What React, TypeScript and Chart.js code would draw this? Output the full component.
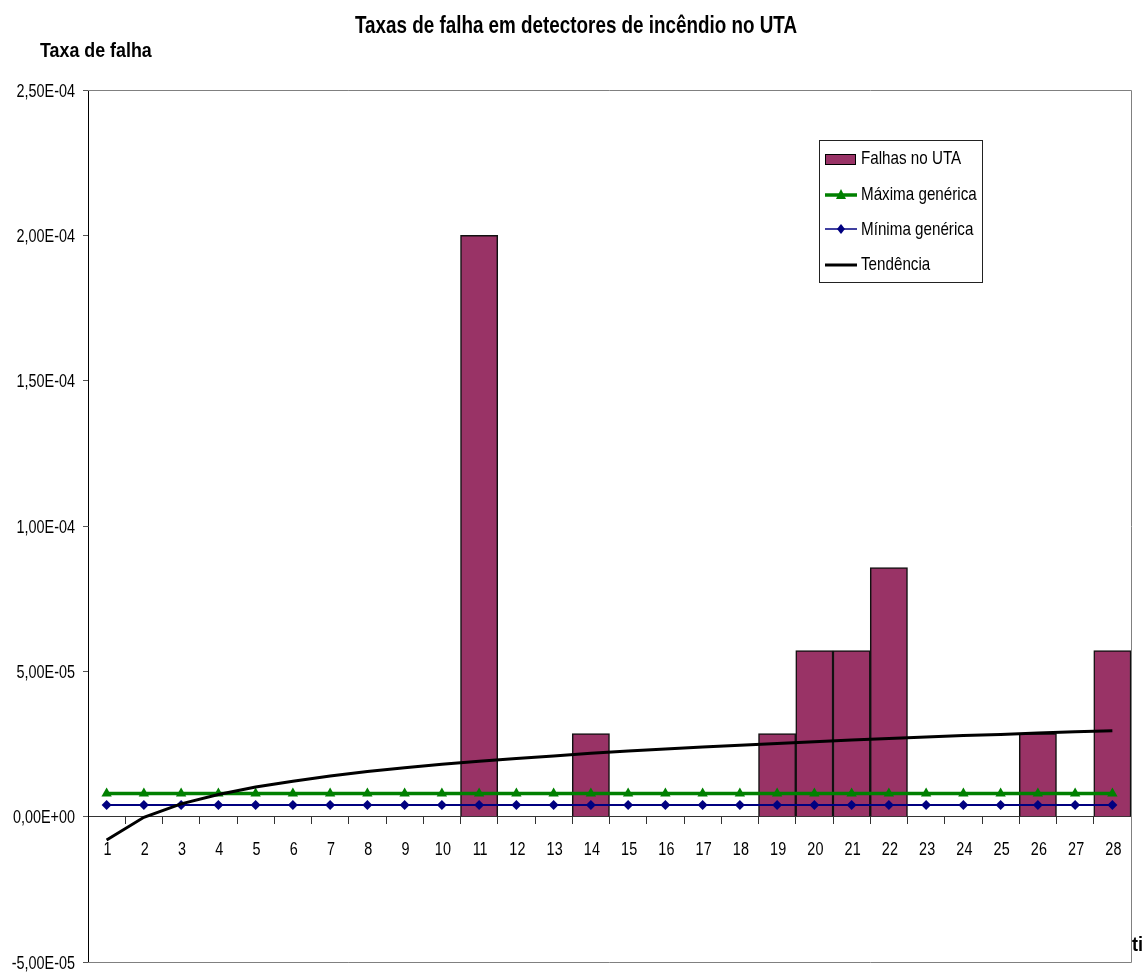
import React, { useEffect, useRef } from "react";
import { Chart, registerables } from "chart.js";

Chart.register(...registerables);

const categories = [
  "1", "2", "3", "4", "5", "6", "7", "8", "9", "10", "11", "12", "13", "14",
  "15", "16", "17", "18", "19", "20", "21", "22", "23", "24", "25", "26", "27", "28",
];

const falhasUTA = [
  null, null, null, null, null, null, null, null, null, null, 2.0e-4, null, null, 2.857e-5,
  null, null, null, null, 2.857e-5, 5.714e-5, 5.714e-5, 8.571e-5, null, null, null, 2.857e-5, null, 5.714e-5,
];

const maximaGenerica = [
  8e-6, 8e-6, 8e-6, 8e-6, 8e-6, 8e-6, 8e-6, 8e-6, 8e-6, 8e-6, 8e-6, 8e-6, 8e-6, 8e-6,
  8e-6, 8e-6, 8e-6, 8e-6, 8e-6, 8e-6, 8e-6, 8e-6, 8e-6, 8e-6, 8e-6, 8e-6, 8e-6, 8e-6,
];

const minimaGenerica = [
  4e-6, 4e-6, 4e-6, 4e-6, 4e-6, 4e-6, 4e-6, 4e-6, 4e-6, 4e-6, 4e-6, 4e-6, 4e-6, 4e-6,
  4e-6, 4e-6, 4e-6, 4e-6, 4e-6, 4e-6, 4e-6, 4e-6, 4e-6, 4e-6, 4e-6, 4e-6, 4e-6, 4e-6,
];

const tendencia = [
  -8.0e-6, -0.2e-6, 4.4e-6, 7.6e-6, 10.2e-6, 12.2e-6, 14.0e-6, 15.5e-6, 16.8e-6, 18.0e-6,
  19.1e-6, 20.0e-6, 20.9e-6, 21.8e-6, 22.6e-6, 23.3e-6, 24.0e-6, 24.6e-6, 25.2e-6, 25.8e-6,
  26.4e-6, 26.9e-6, 27.4e-6, 27.9e-6, 28.3e-6, 28.8e-6, 29.2e-6, 29.6e-6,
];

const seriesLabels = ["Falhas no UTA", "Máxima genérica", "Mínima genérica", "Tendência"];
const chartTitle = "Taxas de falha em detectores de incêndio no UTA";
const yAxisTitle = "Taxa de falha";
const xAxisTitle = "ti";

const FONT = "'Liberation Sans', Arial, sans-serif";
const BAR_COLOR = "#993366";
const GREEN = "#008000";
const NAVY = "#000080";

function sci(v: number): string {
  if (Math.abs(v) < 1e-12) return "0,00E+00";
  const [m, e] = v.toExponential(2).split("e");
  const n = parseInt(e, 10);
  return m.replace(".", ",") + "E" + (n < 0 ? "-" : "+") + String(Math.abs(n)).padStart(2, "0");
}

// draws horizontally condensed text (the original uses a narrow typeface)
function narrowText(ctx: any, text: string, x: number, y: number, font: string, align: string, sx: number) {
  ctx.save();
  ctx.translate(x, y);
  ctx.scale(sx, 1);
  ctx.font = font;
  ctx.textAlign = align;
  ctx.textBaseline = "alphabetic";
  ctx.fillStyle = "#000";
  ctx.fillText(text, 0, 0);
  ctx.restore();
}

const decorPlugin = {
  id: "decor",
  beforeDatasetsDraw(chart: any) {
    const { ctx, chartArea } = chart;
    const { left, right, top, bottom } = chartArea;
    ctx.save();
    ctx.strokeStyle = "#808080";
    ctx.lineWidth = 1;
    ctx.beginPath();
    ctx.moveTo(left, Math.round(top) + 0.5);
    ctx.lineTo(Math.round(right) + 0.5, Math.round(top) + 0.5);
    ctx.lineTo(Math.round(right) + 0.5, Math.round(bottom) + 0.5);
    ctx.lineTo(left, Math.round(bottom) + 0.5);
    ctx.stroke();
    ctx.restore();
  },
  afterDraw(chart: any) {
    const { ctx } = chart;
    const xs = chart.scales.x;
    const ys = chart.scales.y;

    // tick labels
    const tickFont = `18px ${FONT}`;
    ys.ticks.forEach((t: any, i: number) => {
      const py = ys.getPixelForTick(i);
      narrowText(ctx, sci(Number(t.value)), 75, py + 6.5, tickFont, "right", 0.8);
    });
    const zeroY = ys.getPixelForValue(0);
    xs.ticks.forEach((t: any, i: number) => {
      const px = xs.getPixelForTick(i);
      narrowText(ctx, String(categories[i]), px + 1, zeroY + 38, tickFont, "center", 0.8);
    });

    // titles
    narrowText(ctx, chartTitle, 576, 33, `bold 24px ${FONT}`, "center", 0.785);
    narrowText(ctx, yAxisTitle, 40, 57, `bold 21px ${FONT}`, "left", 0.85);
    narrowText(ctx, xAxisTitle, 1132, 951, `bold 21px ${FONT}`, "left", 0.86);

    // Legend
    ctx.save();
    const bx = 819.5, by = 140.5, bw = 163, bh = 142;
    ctx.fillStyle = "#fff";
    ctx.fillRect(bx, by, bw, bh);
    ctx.strokeStyle = "#222";
    ctx.lineWidth = 1;
    ctx.strokeRect(bx, by, bw, bh);

    const rows = [159, 195, 229, 265];
    const x0 = 825, x1 = 857, xm = 841, tx = 861;
    ctx.fillStyle = BAR_COLOR;
    ctx.fillRect(825, 154, 30, 10);
    ctx.strokeStyle = "#000";
    ctx.strokeRect(825.5, 154.5, 30, 10);
    ctx.strokeStyle = GREEN;
    ctx.lineWidth = 3.5;
    ctx.beginPath();
    ctx.moveTo(x0, rows[1]);
    ctx.lineTo(x1, rows[1]);
    ctx.stroke();
    ctx.fillStyle = GREEN;
    ctx.beginPath();
    ctx.moveTo(xm, rows[1] - 6);
    ctx.lineTo(xm + 5, rows[1] + 4);
    ctx.lineTo(xm - 5, rows[1] + 4);
    ctx.closePath();
    ctx.fill();
    ctx.strokeStyle = NAVY;
    ctx.lineWidth = 1.5;
    ctx.beginPath();
    ctx.moveTo(x0, rows[2]);
    ctx.lineTo(x1, rows[2]);
    ctx.stroke();
    ctx.fillStyle = NAVY;
    ctx.beginPath();
    ctx.moveTo(xm, rows[2] - 5);
    ctx.lineTo(xm + 4, rows[2]);
    ctx.lineTo(xm, rows[2] + 5);
    ctx.lineTo(xm - 4, rows[2]);
    ctx.closePath();
    ctx.fill();
    ctx.strokeStyle = "#000";
    ctx.lineWidth = 3;
    ctx.beginPath();
    ctx.moveTo(x0, rows[3]);
    ctx.lineTo(x1, rows[3]);
    ctx.stroke();
    ctx.restore();

    const baselines = [164, 200, 235, 270];
    seriesLabels.forEach((l, i) => narrowText(ctx, l, tx, baselines[i], `19px ${FONT}`, "left", 0.8));
  },
};

export default function App() {
  const ref = useRef<HTMLCanvasElement | null>(null);

  useEffect(() => {
    if (!ref.current) return;
    const chart = new Chart(ref.current, {
      type: "bar",
      data: {
        labels: categories,
        datasets: [
          {
            type: "bar",
            label: seriesLabels[0],
            data: falhasUTA as any,
            backgroundColor: BAR_COLOR,
            borderColor: "#111",
            borderWidth: 1.5,
            categoryPercentage: 1,
            barPercentage: 1,
            order: 4,
          },
          {
            type: "line",
            label: seriesLabels[1],
            data: maximaGenerica,
            borderColor: GREEN,
            backgroundColor: GREEN,
            borderWidth: 3.5,
            pointStyle: "triangle",
            pointRadius: 6,
            pointBorderWidth: 0,
            order: 2,
          },
          {
            type: "line",
            label: seriesLabels[2],
            data: minimaGenerica,
            borderColor: NAVY,
            backgroundColor: NAVY,
            borderWidth: 2,
            pointStyle: "rectRot",
            pointRadius: 5,
            pointBorderWidth: 0,
            order: 3,
          },
          {
            type: "line",
            label: seriesLabels[3],
            data: tendencia,
            borderColor: "#000",
            backgroundColor: "#000",
            borderWidth: 3,
            pointRadius: 0,
            tension: 0,
            order: 1,
          },
        ],
      },
      options: {
        responsive: false,
        animation: false,
        layout: { padding: { top: 90, right: 14, bottom: 14, left: 0 } },
        plugins: {
          legend: { display: false },
          title: { display: false },
          tooltip: { enabled: false },
        },
        scales: {
          x: {
            position: { y: 0 } as any,
            offset: true,
            grid: { offset: true, drawOnChartArea: false, tickLength: 7, color: "#333" },
            border: { display: true, color: "#333", width: 1 },
            ticks: { display: false, autoSkip: false, maxRotation: 0 },
          },
          y: {
            min: -5e-5,
            max: 2.5e-4,
            ticks: { stepSize: 5e-5, display: false },
            grid: { drawOnChartArea: false, tickLength: 5, color: "#555" },
            border: { display: true, color: "#000", width: 1 },
            afterFit: (s: any) => {
              s.width = 88;
            },
          },
        },
      },
      plugins: [decorPlugin],
    });
    return () => chart.destroy();
  }, []);

  return (
    <div style={{ position: "absolute", left: 0, top: 0, width: 1145, height: 976, background: "#fff" }}>
      <canvas ref={ref} width={1145} height={976} style={{ width: 1145, height: 976, display: "block" }} />
    </div>
  );
}
